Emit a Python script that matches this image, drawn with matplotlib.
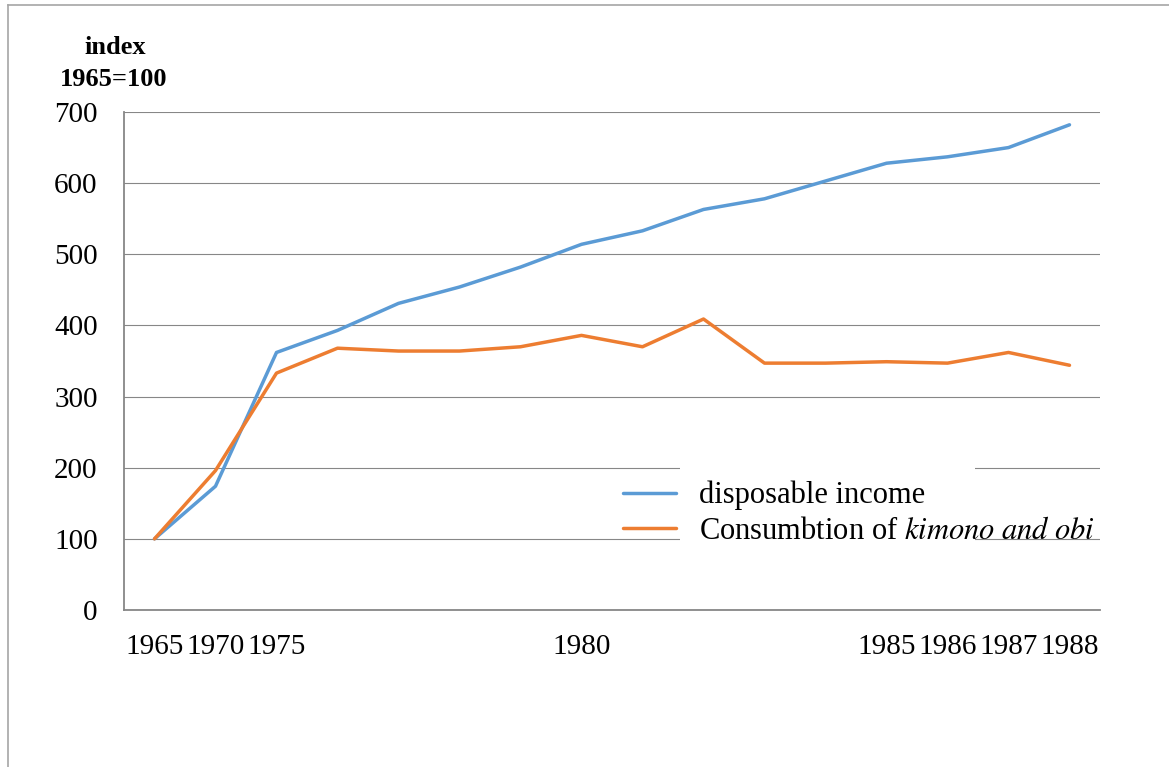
import matplotlib.pyplot as plt
from matplotlib.lines import Line2D
from matplotlib.patches import Rectangle

plt.rcParams["font.family"] = ["Liberation Serif", "DejaVu Serif"]
plt.rcParams["mathtext.fontset"] = "custom"
plt.rcParams["mathtext.rm"] = "STIXGeneral"
plt.rcParams["mathtext.it"] = "STIXGeneral:italic"

years = ["1965", "1970", "1975", "", "", "", "", "1980",
         "", "", "", "", "1985", "1986", "1987", "1988"]
income = [100, 174, 362, 393, 431, 454, 482, 514,
          533, 563, 578, 603, 628, 637, 650, 682]
kimono = [100, 196, 333, 368, 364, 364, 370, 386,
          370, 409, 347, 347, 349, 347, 362, 344]

blue = "#5B9BD5"
orange = "#ED7D31"
grid_col = "#878787"

fig = plt.figure(figsize=(11.69, 7.67), dpi=100)
ax = fig.add_axes([124 / 1169, 1 - 610 / 767, 976 / 1169, 498 / 767])

x = list(range(len(years)))
ax.plot(x, income, color=blue, lw=2.5, label="disposable income",
        solid_joinstyle="round", solid_capstyle="round", zorder=3)
ax.plot(x, kimono, color=orange, lw=2.5,
        label=r"Consumbtion of $\mathit{kimono\ and\ obi}$",
        solid_joinstyle="round", solid_capstyle="round", zorder=3)

ax.set_xlim(-0.5, len(years) - 0.5)
ax.set_ylim(0, 700)
ax.set_yticks(range(0, 701, 100))
ax.set_xticks(x)
ax.set_xticklabels(years)
ax.tick_params(axis="both", length=0, labelsize=21)
ax.tick_params(axis="y", pad=19)
ax.tick_params(axis="x", pad=17)

ax.grid(axis="y", color=grid_col, lw=0.8)
ax.set_axisbelow(True)
for s in ["top", "right"]:
    ax.spines[s].set_visible(False)
ax.spines["left"].set_color(grid_col)
ax.spines["left"].set_linewidth(1.3)
ax.spines["bottom"].set_color(grid_col)
ax.spines["bottom"].set_linewidth(1.3)

# white backdrop of the legend box, hiding the gridlines behind it
ax.add_patch(Rectangle((556 / 976, 67 / 498), 295 / 976, 83 / 498,
                       transform=ax.transAxes, facecolor="white",
                       edgecolor="none", zorder=1))

leg = ax.legend(loc="upper left", bbox_to_anchor=(499 / 976, 129 / 498),
                frameon=False, fontsize=22, handlelength=1.75,
                handletextpad=0.75, labelspacing=0.2, borderpad=0,
                borderaxespad=0)

fig.text(115 / 1169, 1 - 48 / 767, "index", ha="center", va="center",
         fontsize=19, fontweight="bold")
fig.text(114 / 1169, 1 - 79 / 767, "1965=100", ha="center", va="center",
         fontsize=19, fontweight="bold")

# outer border of the picture
fig.add_artist(Line2D([8 / 1169, 1], [1 - 5 / 767, 1 - 5 / 767],
                      color="#A6A6A6", lw=1.2))
fig.add_artist(Line2D([8 / 1169, 8 / 1169], [0, 1 - 5 / 767],
                      color="#A6A6A6", lw=1.2))

fig.savefig("out.png", dpi=100)
